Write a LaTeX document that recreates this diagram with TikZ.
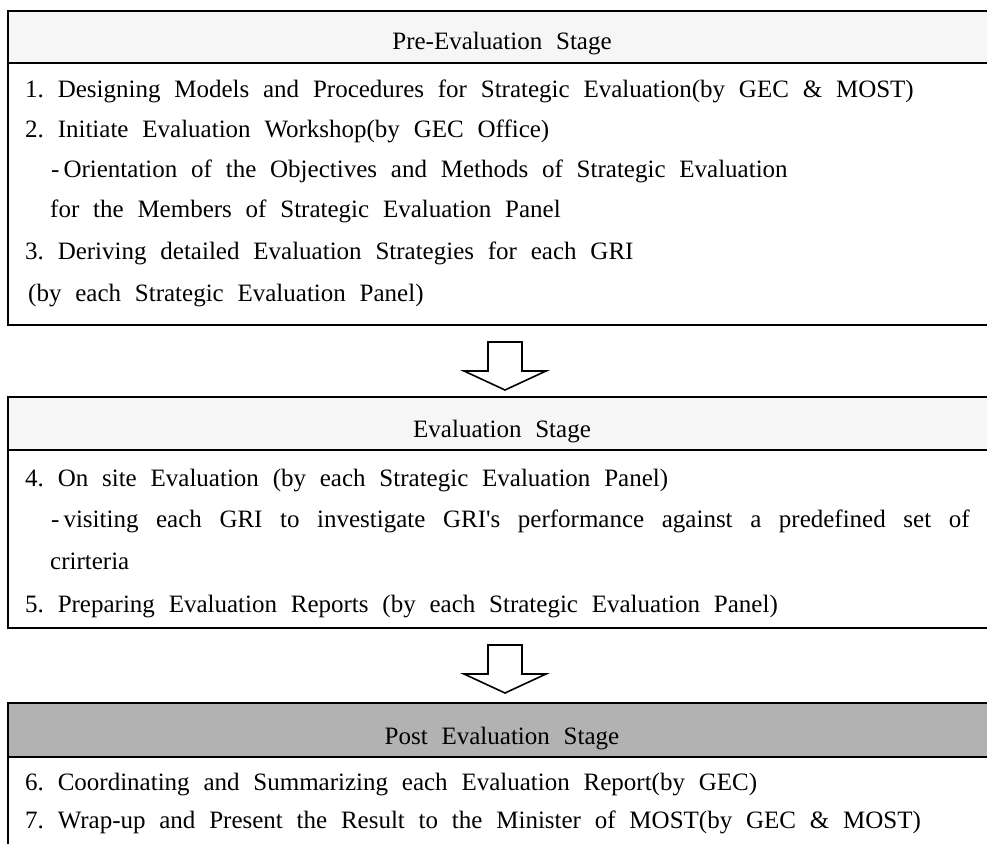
\documentclass[tikz,border=0pt]{standalone}
\usepackage{fontspec}
\setmainfont{Liberation Serif}
\newcommand{\stagefont}{\fontsize{25}{30}\selectfont\frenchspacing\spaceskip=13.8pt plus 12pt minus 2pt\relax}
\definecolor{hdrlight}{gray}{0.965}
\definecolor{hdrdark}{gray}{0.70}
\begin{document}
\begin{tikzpicture}[x=1pt,y=-1pt,
  frame/.style={line width=1.6pt},
  txt/.style={anchor=base west, inner sep=0pt, font=\stagefont},
  ttl/.style={anchor=base, inner sep=0pt, font=\stagefont},
  blockarrow/.style={line width=1.6pt, fill=white, line join=miter}]
\useasboundingbox (0,0) rectangle (987,843);
\clip (0,0) rectangle (987,843);

% ---------- Pre-Evaluation Stage ----------
\draw[frame, fill=hdrlight] (8,11) rectangle (996,63);
\draw[frame] (8,63) rectangle (996,325);
\node[ttl] (t1) at (502,49) {Pre-Evaluation Stage};
\node[txt] (s1) at (25,97) {1. Designing Models and Procedures for Strategic Evaluation(by GEC \& MOST)};
\node[txt] (s2) at (25,137) {2. Initiate Evaluation Workshop(by GEC Office)};
\node[txt] (s2a) at (51,177) {-\kern4pt Orientation of the Objectives and Methods of Strategic Evaluation};
\node[txt] (s2b) at (50,217) {for the Members of Strategic Evaluation Panel};
\node[txt] (s3) at (25,259) {3. Deriving detailed Evaluation Strategies for each GRI};
\node[txt] (s3a) at (28,301) {(by each Strategic Evaluation Panel)};

% ---------- arrow 1 ----------
\draw[blockarrow] (488,342) -- (522,342) -- (522,371) -- (546,371) -- (505,390)
  -- (464,371) -- (488,371) -- cycle;

% ---------- Evaluation Stage ----------
\draw[frame, fill=hdrlight] (8,397) rectangle (996,450);
\draw[frame] (8,450) rectangle (996,628);
\node[ttl] (t2) at (502,437) {Evaluation Stage};
\node[txt] (s4) at (25,486) {4. On site Evaluation (by each Strategic Evaluation Panel)};
\node[txt] (s4a) at (51,527) {-\kern4pt\makebox[906pt][s]{visiting each GRI to investigate GRI\textquotesingle s performance against a predefined set of}};
\node[txt] (s4b) at (50,569) {crirteria};
\node[txt] (s5) at (25,612) {5. Preparing Evaluation Reports (by each Strategic Evaluation Panel)};

% ---------- arrow 2 ----------
\draw[blockarrow] (488,645) -- (522,645) -- (522,674) -- (546,674) -- (505,693)
  -- (464,674) -- (488,674) -- cycle;

% ---------- Post Evaluation Stage ----------
\draw[frame, fill=hdrdark] (8,703) rectangle (996,757);
\draw[frame] (8,757) rectangle (996,880);
\node[ttl] (t3) at (502,744) {Post Evaluation Stage};
\node[txt] (s6) at (25,790) {6. Coordinating and Summarizing each Evaluation Report(by GEC)};
\node[txt] (s7) at (25,828) {7. Wrap-up and Present the Result to the Minister of MOST(by GEC \& MOST)};
\end{tikzpicture}
\end{document}
